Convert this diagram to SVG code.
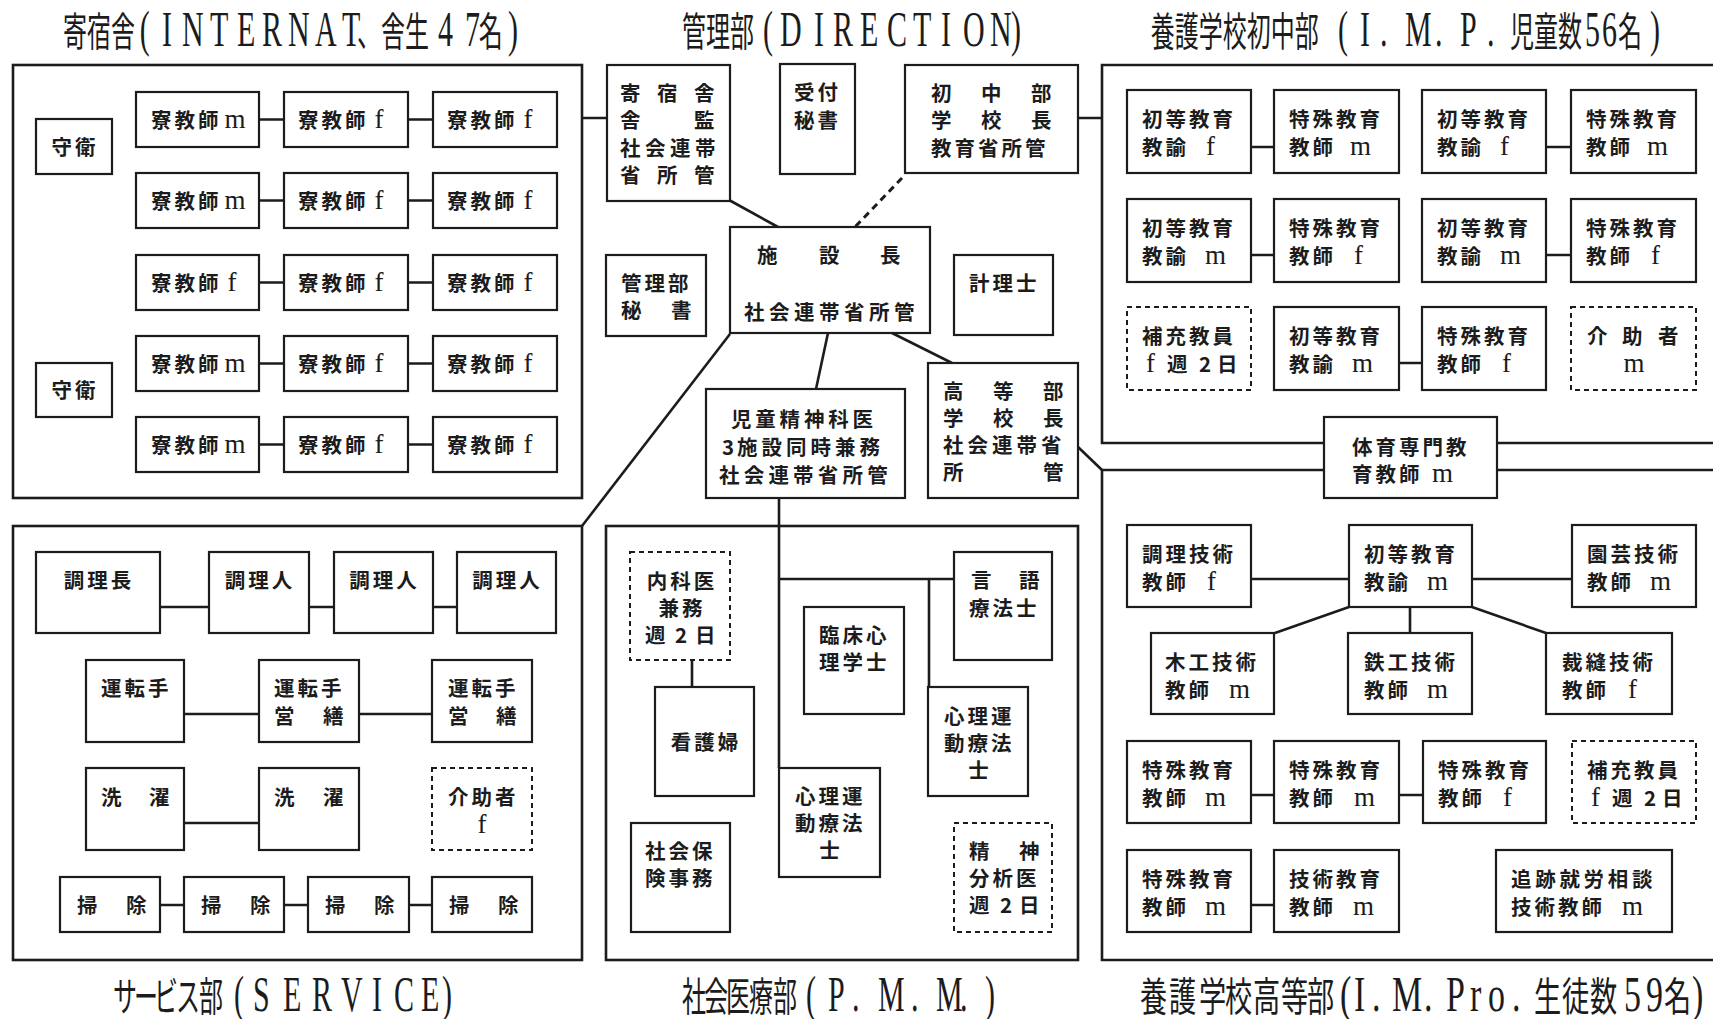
<svg xmlns="http://www.w3.org/2000/svg" width="1713" height="1019" viewBox="0 0 1713 1019">
<style>
.bx{fill:#fff;stroke:#1c1c1c;stroke-width:2.2}
.dbx{fill:#fff;stroke:#1c1c1c;stroke-width:2;stroke-dasharray:5 4}
.fr{fill:none;stroke:#1c1c1c;stroke-width:2.6}
.cn{fill:none;stroke:#1c1c1c;stroke-width:2.6}
.cd{fill:none;stroke:#1c1c1c;stroke-width:3;stroke-dasharray:7 5}
.t{font-family:"Noto Sans CJK JP",sans-serif;font-weight:700;font-size:20.5px;fill:#1c1c1c;letter-spacing:3px}
.m{text-anchor:middle}
.l{font-family:"Liberation Serif",serif;font-weight:400;font-size:27px;letter-spacing:0}
.ttl{font-family:"Liberation Serif","Noto Sans CJK JP",serif;font-weight:400;font-size:40px;fill:#1c1c1c}
.tl{font-size:50px}
</style>
<rect width="1713" height="1019" fill="#fff"/>

<!-- Titles -->
<g id="titles">
<text class="ttl" transform="translate(0,46) scale(0.6,1)"><tspan x="105">寄宿舎</tspan><tspan class="tl" x="233">(</tspan><tspan class="tl" x="270 303.3 350 395 436.7 480 525 570">INTERNAT</tspan><tspan x="595">、舎生</tspan><tspan class="tl" x="730 775">47</tspan><tspan x="798">名</tspan><tspan class="tl" x="846.7">)</tspan></text>
<text class="ttl" transform="translate(0,46) scale(0.6,1)"><tspan x="1136.7">管理部</tspan><tspan class="tl" x="1271.7">(</tspan><tspan class="tl" x="1300 1356.7 1388.3 1433.3 1478.3 1521.7 1568.3 1605 1650">DIRECTION</tspan><tspan class="tl" x="1685">)</tspan></text>
<text class="ttl" transform="translate(0,46) scale(0.6,1)"><tspan x="1918">養護学校初中部</tspan><tspan class="tl" x="2230">(</tspan><tspan class="tl" x="2266.7 2300 2320 2341.7 2391.7 2410 2433.3 2478.3 2500">I. M. P. </tspan><tspan x="2516.7">児童数</tspan><tspan class="tl" x="2641.7 2670">56</tspan><tspan x="2696.7">名</tspan><tspan class="tl" x="2750">)</tspan></text>
<text class="ttl" transform="translate(0,1011) scale(0.6,1)"><tspan x="188.3 223.3 256.7 293.3 331.7">サービス部</tspan><tspan class="tl" x="390">(</tspan><tspan class="tl" x="421.7 471.7 520 568.3 620 656.7 701.7">SERVICE</tspan><tspan class="tl" x="736.7">)</tspan></text>
<text class="ttl" transform="translate(0,1011) scale(0.6,1)"><tspan x="1136.7 1173.3 1210 1248.3 1288.3">社会医療部</tspan><tspan class="tl" x="1343.3">(</tspan><tspan class="tl" x="1380 1420 1440 1463.3 1518.3 1540 1560 1600 1620">P. M. M. </tspan><tspan class="tl" x="1641.7">)</tspan></text>
<text class="ttl" transform="translate(0,1011) scale(0.68,1)"><tspan x="1676.5 1719.1 1763.2 1801.5 1842.6 1883.8 1922.1">養護学校高等部</tspan><tspan class="tl" x="1970.6">(</tspan><tspan class="tl" x="1991.2 2017.6 2035 2047.1 2094.1 2110 2126.5 2161.8 2188.2 2223.5 2235">I. M. Pro. </tspan><tspan x="2255.9 2297.1 2338.2">生徒数</tspan><tspan class="tl" x="2388.2 2420.6">59</tspan><tspan x="2447.1">名</tspan><tspan class="tl" x="2488.2">)</tspan></text>
</g>

<!-- Section frames -->
<g id="frames">
<rect id="frame-internat" class="fr" x="13" y="65" width="569" height="433"/>
<rect id="frame-service" class="fr" x="13" y="526" width="569" height="434"/>
<rect id="frame-pmm" class="fr" x="606" y="526" width="472" height="434"/>
<path id="frame-imp" class="fr" d="M1720 65H1102V443H1324M1497 443H1720"/>
<path id="frame-impro" class="fr" d="M1324 470H1102V960H1720M1497 470H1720"/>
</g>

<!-- Connectors -->
<g id="connectors">
<path class="cn" d="M259 119.5H284M408 119.5H433M259 200.5H284M408 200.5H433M259 282.5H284M408 282.5H433M259 363.5H284M408 363.5H433M259 444.5H284M408 444.5H433"/>
<path class="cn" d="M582 118H607M1078 118H1102"/>
<path class="cn" d="M729 200L778 227"/>
<path class="cd" d="M902 178L855 227"/>
<path class="cn" d="M730 334L582 526"/>
<path class="cn" d="M828 333L816 389"/>
<path class="cn" d="M892 333L952 363"/>
<path class="cn" d="M1078 447L1102 470"/>
<path class="cn" d="M779 498V768M779 579H954M929 579V687M692 660V687"/>
<path class="cn" d="M160 607H209M309 607H334M433 607H457M184 714H259M359 714H432M184 823H259M160 905H184M284 905H308M409 905H432"/>
<path class="cn" d="M1251 147H1274M1546 147H1571M1251 255H1274M1546 255H1571M1399 363H1422"/>
<path class="cn" d="M1251 579H1349M1472 579H1572M1349 607L1275 633M1410 607V633M1472 607L1546 633M1251 795H1274M1399 795H1423M1251 905H1274"/>
</g>

<!-- INTERNAT -->
<g id="n-guard1"><rect class="bx" x="36" y="119" width="76" height="55"/><text class="t m" x="75" y="155">守衛</text></g>
<g id="n-guard2"><rect class="bx" x="36" y="363" width="76" height="54"/><text class="t m" x="75" y="398">守衛</text></g>
<g id="n-d11"><rect class="bx" x="136" y="92" width="123" height="55"/><text class="t" x="151" y="128">寮教師<tspan class="l" dx="3">m</tspan></text></g>
<g id="n-d12"><rect class="bx" x="284" y="92" width="124" height="55"/><text class="t" x="298" y="128">寮教師<tspan class="l" dx="6">f</tspan></text></g>
<g id="n-d13"><rect class="bx" x="433" y="92" width="124" height="55"/><text class="t" x="447" y="128">寮教師<tspan class="l" dx="6">f</tspan></text></g>
<g id="n-d21"><rect class="bx" x="136" y="173" width="123" height="55"/><text class="t" x="151" y="209">寮教師<tspan class="l" dx="3">m</tspan></text></g>
<g id="n-d22"><rect class="bx" x="284" y="173" width="124" height="55"/><text class="t" x="298" y="209">寮教師<tspan class="l" dx="6">f</tspan></text></g>
<g id="n-d23"><rect class="bx" x="433" y="173" width="124" height="55"/><text class="t" x="447" y="209">寮教師<tspan class="l" dx="6">f</tspan></text></g>
<g id="n-d31"><rect class="bx" x="136" y="255" width="123" height="55"/><text class="t" x="151" y="291">寮教師<tspan class="l" dx="6">f</tspan></text></g>
<g id="n-d32"><rect class="bx" x="284" y="255" width="124" height="55"/><text class="t" x="298" y="291">寮教師<tspan class="l" dx="6">f</tspan></text></g>
<g id="n-d33"><rect class="bx" x="433" y="255" width="124" height="55"/><text class="t" x="447" y="291">寮教師<tspan class="l" dx="6">f</tspan></text></g>
<g id="n-d41"><rect class="bx" x="136" y="336" width="123" height="55"/><text class="t" x="151" y="372">寮教師<tspan class="l" dx="3">m</tspan></text></g>
<g id="n-d42"><rect class="bx" x="284" y="336" width="124" height="55"/><text class="t" x="298" y="372">寮教師<tspan class="l" dx="6">f</tspan></text></g>
<g id="n-d43"><rect class="bx" x="433" y="336" width="124" height="55"/><text class="t" x="447" y="372">寮教師<tspan class="l" dx="6">f</tspan></text></g>
<g id="n-d51"><rect class="bx" x="136" y="417" width="123" height="55"/><text class="t" x="151" y="453">寮教師<tspan class="l" dx="3">m</tspan></text></g>
<g id="n-d52"><rect class="bx" x="284" y="417" width="124" height="55"/><text class="t" x="298" y="453">寮教師<tspan class="l" dx="6">f</tspan></text></g>
<g id="n-d53"><rect class="bx" x="433" y="417" width="124" height="55"/><text class="t" x="447" y="453">寮教師<tspan class="l" dx="6">f</tspan></text></g>

<!-- DIRECTION -->
<g id="n-kanshi"><rect class="bx" x="607" y="65" width="123" height="136"/>
<text class="t" x="620 657 694" y="101">寄宿舎</text>
<text class="t" x="620 694" y="128">舎監</text>
<text class="t" x="620 645 670 695" y="156">社会連帯</text>
<text class="t" x="620 657 694" y="183">省所管</text></g>
<g id="n-uketsuke"><rect class="bx" x="780" y="64" width="75" height="110"/>
<text class="t" x="794" y="100">受付</text><text class="t" x="794" y="128">秘書</text></g>
<g id="n-shochu"><rect class="bx" x="905" y="65" width="173" height="108"/>
<text class="t" x="931 981 1031" y="101">初中部</text>
<text class="t" x="931 981 1031" y="128">学校長</text>
<text class="t" x="931" y="156">教育省所管</text></g>
<g id="n-shisetsu"><rect class="bx" x="730" y="227" width="200" height="106"/>
<text class="t" x="757 819 880" y="263">施設長</text>
<text class="t" x="744 769 794 819 844 869 894" y="320">社会連帯省所管</text></g>
<g id="n-kanrihisho"><rect class="bx" x="606" y="255" width="100" height="81"/>
<text class="t" x="621" y="291">管理部</text><text class="t" x="621 671" y="318">秘書</text></g>
<g id="n-keiri"><rect class="bx" x="954" y="255" width="99" height="80"/>
<text class="t" x="969" y="291">計理士</text></g>
<g id="n-seishin"><rect class="bx" x="706" y="389" width="199" height="109"/>
<text class="t" x="731 755.3 779.6 803.9 828.2 852.5" y="427">児童精神科医</text>
<text class="t" x="722 737 761.5 786 810.5 835 859.5" y="455">3施設同時兼務</text>
<text class="t" x="719 743.7 768.4 793.1 817.8 842.5 867.2" y="483">社会連帯省所管</text></g>
<g id="n-koto"><rect class="bx" x="928" y="363" width="150" height="135"/>
<text class="t" x="943 993 1043" y="399">高等部</text>
<text class="t" x="943 993 1043" y="426">学校長</text>
<text class="t" x="943 967.5 992 1016.5 1041" y="453">社会連帯省</text>
<text class="t" x="943 1043" y="480">所管</text></g>

<!-- IMP -->
<g id="n-p11"><rect class="bx" x="1127" y="90" width="124" height="83"/><text class="t" x="1142" y="127">初等教育</text><text class="t" x="1142" y="155">教諭<tspan class="l" x="1206">f</tspan></text></g>
<g id="n-p12"><rect class="bx" x="1274" y="90" width="125" height="83"/><text class="t" x="1289" y="127">特殊教育</text><text class="t" x="1289" y="155">教師<tspan class="l" x="1350">m</tspan></text></g>
<g id="n-p13"><rect class="bx" x="1422" y="90" width="124" height="83"/><text class="t" x="1437" y="127">初等教育</text><text class="t" x="1437" y="155">教諭<tspan class="l" x="1500">f</tspan></text></g>
<g id="n-p14"><rect class="bx" x="1571" y="90" width="125" height="83"/><text class="t" x="1586" y="127">特殊教育</text><text class="t" x="1586" y="155">教師<tspan class="l" x="1647">m</tspan></text></g>
<g id="n-p21"><rect class="bx" x="1127" y="199" width="124" height="83"/><text class="t" x="1142" y="236">初等教育</text><text class="t" x="1142" y="264">教諭<tspan class="l" x="1205">m</tspan></text></g>
<g id="n-p22"><rect class="bx" x="1274" y="199" width="125" height="83"/><text class="t" x="1289" y="236">特殊教育</text><text class="t" x="1289" y="264">教師<tspan class="l" x="1354">f</tspan></text></g>
<g id="n-p23"><rect class="bx" x="1422" y="199" width="124" height="83"/><text class="t" x="1437" y="236">初等教育</text><text class="t" x="1437" y="264">教諭<tspan class="l" x="1500">m</tspan></text></g>
<g id="n-p24"><rect class="bx" x="1571" y="199" width="125" height="83"/><text class="t" x="1586" y="236">特殊教育</text><text class="t" x="1586" y="264">教師<tspan class="l" x="1651">f</tspan></text></g>
<g id="n-p31"><rect class="dbx" x="1127" y="307" width="124" height="83"/><text class="t" x="1142" y="344">補充教員</text><text class="t" y="372"><tspan class="l" x="1146">f</tspan><tspan x="1167 1199 1217">週2日</tspan></text></g>
<g id="n-p32"><rect class="bx" x="1274" y="307" width="125" height="83"/><text class="t" x="1289" y="344">初等教育</text><text class="t" x="1289" y="372">教諭<tspan class="l" x="1352">m</tspan></text></g>
<g id="n-p33"><rect class="bx" x="1422" y="307" width="124" height="83"/><text class="t" x="1437" y="344">特殊教育</text><text class="t" x="1437" y="372">教師<tspan class="l" x="1502">f</tspan></text></g>
<g id="n-p34"><rect class="dbx" x="1571" y="307" width="125" height="83"/><text class="t" x="1587 1622 1658" y="344">介助者</text><text class="t m" y="372"><tspan class="l" x="1634">m</tspan></text></g>
<g id="n-taiiku"><rect class="bx" x="1324" y="417" width="173" height="81"/><text class="t" x="1352" y="455">体育専門教</text><text class="t" x="1352" y="482">育教師<tspan class="l" x="1432">m</tspan></text></g>

<!-- IMPro -->
<g id="n-r11"><rect class="bx" x="1127" y="525" width="124" height="82"/><text class="t" x="1142" y="562">調理技術</text><text class="t" x="1142" y="590">教師<tspan class="l" x="1207">f</tspan></text></g>
<g id="n-r12"><rect class="bx" x="1349" y="525" width="123" height="82"/><text class="t" x="1364" y="562">初等教育</text><text class="t" x="1364" y="590">教諭<tspan class="l" x="1427">m</tspan></text></g>
<g id="n-r13"><rect class="bx" x="1572" y="525" width="124" height="82"/><text class="t" x="1587" y="562">園芸技術</text><text class="t" x="1587" y="590">教師<tspan class="l" x="1650">m</tspan></text></g>
<g id="n-r21"><rect class="bx" x="1151" y="633" width="123" height="81"/><text class="t" x="1165" y="670">木工技術</text><text class="t" x="1165" y="698">教師<tspan class="l" x="1229">m</tspan></text></g>
<g id="n-r22"><rect class="bx" x="1348" y="633" width="124" height="81"/><text class="t" x="1364" y="670">鉄工技術</text><text class="t" x="1364" y="698">教師<tspan class="l" x="1427">m</tspan></text></g>
<g id="n-r23"><rect class="bx" x="1546" y="633" width="126" height="81"/><text class="t" x="1562" y="670">裁縫技術</text><text class="t" x="1562" y="698">教師<tspan class="l" x="1628">f</tspan></text></g>
<g id="n-r31"><rect class="bx" x="1127" y="741" width="124" height="82"/><text class="t" x="1142" y="778">特殊教育</text><text class="t" x="1142" y="806">教師<tspan class="l" x="1205">m</tspan></text></g>
<g id="n-r32"><rect class="bx" x="1274" y="741" width="125" height="82"/><text class="t" x="1289" y="778">特殊教育</text><text class="t" x="1289" y="806">教師<tspan class="l" x="1354">m</tspan></text></g>
<g id="n-r33"><rect class="bx" x="1423" y="741" width="123" height="82"/><text class="t" x="1438" y="778">特殊教育</text><text class="t" x="1438" y="806">教師<tspan class="l" x="1503">f</tspan></text></g>
<g id="n-r34"><rect class="dbx" x="1572" y="741" width="124" height="82"/><text class="t" x="1587" y="778">補充教員</text><text class="t" y="806"><tspan class="l" x="1591">f</tspan><tspan x="1612 1644 1662">週2日</tspan></text></g>
<g id="n-r41"><rect class="bx" x="1127" y="850" width="124" height="82"/><text class="t" x="1142" y="887">特殊教育</text><text class="t" x="1142" y="915">教師<tspan class="l" x="1205">m</tspan></text></g>
<g id="n-r42"><rect class="bx" x="1274" y="850" width="125" height="82"/><text class="t" x="1289" y="887">技術教育</text><text class="t" x="1289" y="915">教師<tspan class="l" x="1353">m</tspan></text></g>
<g id="n-r43"><rect class="bx" x="1496" y="850" width="176" height="82"/><text class="t" x="1511" y="887" style="letter-spacing:3.7px">追跡就労相談</text><text class="t" x="1511" y="915">技術教師<tspan class="l" x="1622">m</tspan></text></g>

<!-- SERVICE -->
<g id="n-s11"><rect class="bx" x="36" y="552" width="124" height="81"/><text class="t m" x="99" y="588">調理長</text></g>
<g id="n-s12"><rect class="bx" x="209" y="552" width="100" height="81"/><text class="t m" x="260" y="588">調理人</text></g>
<g id="n-s13"><rect class="bx" x="334" y="552" width="99" height="81"/><text class="t m" x="384.5" y="588">調理人</text></g>
<g id="n-s14"><rect class="bx" x="457" y="552" width="99" height="81"/><text class="t m" x="507.5" y="588">調理人</text></g>
<g id="n-s21"><rect class="bx" x="86" y="660" width="98" height="82"/><text class="t" x="101" y="696">運転手</text></g>
<g id="n-s22"><rect class="bx" x="259" y="660" width="100" height="82"/><text class="t" x="274" y="696">運転手</text><text class="t" x="274 323" y="724">営繕</text></g>
<g id="n-s23"><rect class="bx" x="432" y="660" width="100" height="82"/><text class="t" x="448" y="696">運転手</text><text class="t" x="448 496" y="724">営繕</text></g>
<g id="n-s31"><rect class="bx" x="86" y="768" width="98" height="82"/><text class="t" x="101 149" y="805">洗濯</text></g>
<g id="n-s32"><rect class="bx" x="259" y="768" width="100" height="82"/><text class="t" x="274 323" y="805">洗濯</text></g>
<g id="n-s33"><rect class="dbx" x="432" y="768" width="100" height="82"/><text class="t" x="448" y="805">介助者</text><text class="t m" y="833"><tspan class="l" x="482">f</tspan></text></g>
<g id="n-s41"><rect class="bx" x="60" y="877" width="100" height="55"/><text class="t" x="77 126" y="913">掃除</text></g>
<g id="n-s42"><rect class="bx" x="184" y="877" width="100" height="55"/><text class="t" x="201 250" y="913">掃除</text></g>
<g id="n-s43"><rect class="bx" x="308" y="877" width="101" height="55"/><text class="t" x="325 374" y="913">掃除</text></g>
<g id="n-s44"><rect class="bx" x="432" y="877" width="100" height="55"/><text class="t" x="449 498" y="913">掃除</text></g>

<!-- PMM -->
<g id="n-naika"><rect class="dbx" x="630" y="552" width="100" height="108"/><text class="t m" x="682" y="589">内科医</text><text class="t m" x="682" y="616">兼務</text><text class="t" x="645 675 695" y="643">週2日</text></g>
<g id="n-kango"><rect class="bx" x="655" y="687" width="99" height="109"/><text class="t m" x="706" y="750">看護婦</text></g>
<g id="n-hoken"><rect class="bx" x="631" y="823" width="99" height="109"/><text class="t" x="645" y="859">社会保</text><text class="t" x="645" y="886">険事務</text></g>
<g id="n-rinsho"><rect class="bx" x="804" y="607" width="100" height="107"/><text class="t" x="819" y="643">臨床心</text><text class="t" x="819" y="670">理学士</text></g>
<g id="n-shinri1"><rect class="bx" x="779" y="768" width="101" height="109"/><text class="t" x="795" y="804">心理運</text><text class="t" x="795" y="831">動療法</text><text class="t m" x="831" y="858">士</text></g>
<g id="n-gengo"><rect class="bx" x="954" y="552" width="98" height="108"/><text class="t" x="971 1019" y="588">言語</text><text class="t" x="969" y="616">療法士</text></g>
<g id="n-shinri2"><rect class="bx" x="928" y="687" width="100" height="109"/><text class="t" x="944" y="724">心理運</text><text class="t" x="944" y="751">動療法</text><text class="t m" x="980" y="778">士</text></g>
<g id="n-bunseki"><rect class="dbx" x="954" y="823" width="98" height="109"/><text class="t" x="969 1019" y="859">精神</text><text class="t" x="969" y="886">分析医</text><text class="t" x="969 1000 1019" y="913">週2日</text></g>
</svg>
